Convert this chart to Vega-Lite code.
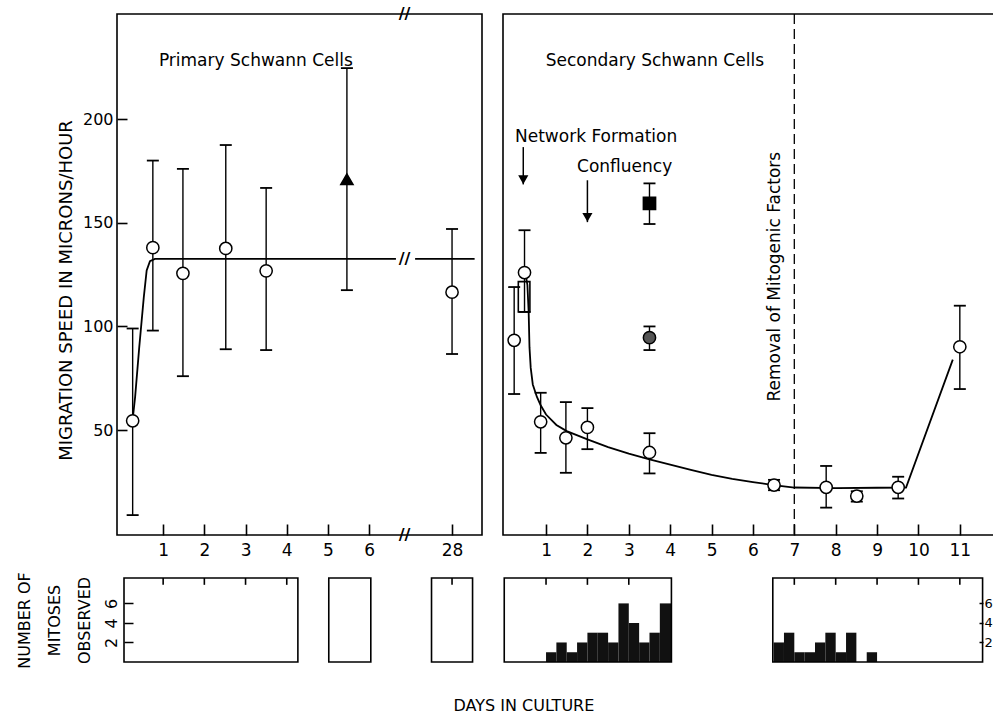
{
"$schema": "https://vega.github.io/schema/vega-lite/v6.json",
"background": "white",
"padding": {"left": 16, "top": 5, "right": 0, "bottom": 5},
"config": {
  "font": "DejaVu Sans",
  "view": {"stroke": null},
  "axis": {"labelFont": "DejaVu Sans", "titleFont": "DejaVu Sans", "labelColor": "black", "titleColor": "black", "tickColor": "black", "domain": false, "grid": false, "labelFontSize": 16, "titleFontSize": 16, "titleFontWeight": "normal"},
  "text": {"font": "DejaVu Sans", "fontSize": 17, "color": "black"}
},
"title": {"text": "DAYS IN CULTURE", "orient": "bottom", "anchor": "middle", "fontSize": 16, "fontWeight": "normal", "font": "DejaVu Sans", "color": "black", "offset": 30, "dx": 18},
"datasets": {
  "prim_pts": [
    {"day": 0.26, "speed": 54.5, "lo": 9, "hi": 99, "marker": "open"},
    {"day": 0.75, "speed": 138, "lo": 98, "hi": 180, "marker": "open"},
    {"day": 1.48, "speed": 125.6, "lo": 76, "hi": 176, "marker": "open"},
    {"day": 2.52, "speed": 137.6, "lo": 89, "hi": 187.5, "marker": "open"},
    {"day": 3.5, "speed": 126.8, "lo": 88.6, "hi": 166.8, "marker": "open"},
    {"day": 5.46, "speed": 171, "lo": 117.5, "hi": 224.6, "marker": "triangle"},
    {"day": 28, "speed": 116.5, "lo": 86.7, "hi": 147, "marker": "open"}
  ],
  "prim_curve": [
    {"day": 0.26, "speed": 55, "seg": "a"},
    {"day": 0.32, "speed": 66, "seg": "a"},
    {"day": 0.42, "speed": 90, "seg": "a"},
    {"day": 0.53, "speed": 114, "seg": "a"},
    {"day": 0.6, "speed": 127, "seg": "a"},
    {"day": 0.68, "speed": 131.5, "seg": "a"},
    {"day": 0.8, "speed": 132.6, "seg": "a"},
    {"day": 6.65, "speed": 132.6, "seg": "a"},
    {"day": 27.1, "speed": 132.6, "seg": "b"},
    {"day": 28.55, "speed": 132.6, "seg": "b"}
  ],
  "prim_text": [
    {"day": 3.25, "speed": 228, "label": "Primary Schwann Cells"}
  ],
  "prim_break": [
    {"day": 16.85, "speed": 250.7, "label": "//"},
    {"day": 16.85, "speed": 132.6, "label": "//"},
    {"day": 16.85, "speed": -0.6, "label": "//"}
  ],
  "sec_pts": [
    {"day": 0.23, "speed": 93.3, "lo": 67.4, "hi": 119, "marker": "open"},
    {"day": 0.48, "speed": 126, "lo": 107, "hi": 146.4, "marker": "open"},
    {"day": 0.87, "speed": 54, "lo": 39, "hi": 68, "marker": "open"},
    {"day": 1.48, "speed": 46.3, "lo": 29.4, "hi": 63.5, "marker": "open"},
    {"day": 2.0, "speed": 51.3, "lo": 40.8, "hi": 60.6, "marker": "open"},
    {"day": 3.5, "speed": 39.2, "lo": 29.1, "hi": 48.5, "marker": "open"},
    {"day": 3.5, "speed": 94.6, "lo": 88.6, "hi": 100, "marker": "dot"},
    {"day": 3.5, "speed": 159.4, "lo": 149.4, "hi": 169, "marker": "square"},
    {"day": 6.51, "speed": 23.5, "lo": 21, "hi": 26, "marker": "open"},
    {"day": 7.77, "speed": 22.4, "lo": 12.6, "hi": 32.7, "marker": "open"},
    {"day": 8.51, "speed": 18.2, "lo": 15.5, "hi": 20.5, "marker": "open"},
    {"day": 9.51, "speed": 22.4, "lo": 17, "hi": 27.5, "marker": "open"},
    {"day": 11.0, "speed": 90.2, "lo": 69.8, "hi": 110, "marker": "open"}
  ],
  "sec_curve": [
    {"day": 0.5, "speed": 126},
    {"day": 0.55, "speed": 120},
    {"day": 0.58, "speed": 107},
    {"day": 0.6, "speed": 90},
    {"day": 0.63, "speed": 80},
    {"day": 0.68, "speed": 72},
    {"day": 0.78, "speed": 66},
    {"day": 0.87, "speed": 62},
    {"day": 1.0, "speed": 57.5},
    {"day": 1.25, "speed": 52.5},
    {"day": 1.5, "speed": 49.5},
    {"day": 2.0, "speed": 45.5},
    {"day": 2.5, "speed": 41.8},
    {"day": 3.0, "speed": 38.6},
    {"day": 3.5, "speed": 35.9},
    {"day": 4.0, "speed": 33.4},
    {"day": 4.5, "speed": 30.8},
    {"day": 5.0, "speed": 28.4},
    {"day": 5.5, "speed": 26.5},
    {"day": 6.0, "speed": 24.9},
    {"day": 6.5, "speed": 23.5},
    {"day": 7.0, "speed": 22.3},
    {"day": 8.0, "speed": 22.0},
    {"day": 9.0, "speed": 22.2},
    {"day": 9.7, "speed": 22.3},
    {"day": 10.83, "speed": 84}
  ],
  "sec_box": [
    {"day": 0.33, "day2": 0.61, "lo": 107, "hi": 121.6}
  ],
  "sec_arrows": [
    {"day": 0.45, "top": 186.5, "tip": 168.5, "head": 171},
    {"day": 2.0, "top": 170.5, "tip": 150.3, "head": 152.8}
  ],
  "sec_text": [
    {"day": 3.63, "speed": 228, "label": "Secondary Schwann Cells", "kind": "title"},
    {"day": 0.25, "speed": 191.3, "label": "Network Formation", "kind": "note"},
    {"day": 1.75, "speed": 176.9, "label": "Confluency", "kind": "note"}
  ],
  "sec_vtext": [
    {"day": 6.53, "speed": 124, "label": "Removal of Mitogenic Factors"}
  ],
  "prim_frames": [
    {"day": 0.05, "day2": 4.27},
    {"day": 5.02, "day2": 6.04},
    {"day": 27.5, "day2": 28.5}
  ],
  "prim_hticks": [{"day": 1}, {"day": 2}, {"day": 3}, {"day": 4}, {"day": 28}],
  "sec_frames": [
    {"day": -0.01, "day2": 4.03},
    {"day": 6.48, "day2": 11.55}
  ],
  "sec_hticks": [{"day": 1}, {"day": 2}, {"day": 3}, {"day": 7}, {"day": 8}, {"day": 9}, {"day": 10}, {"day": 11}],
  "sec_bins": [
    {"day": 1.0, "day2": 1.25, "count": 1},
    {"day": 1.25, "day2": 1.5, "count": 2},
    {"day": 1.5, "day2": 1.75, "count": 1},
    {"day": 1.75, "day2": 2.0, "count": 2},
    {"day": 2.0, "day2": 2.25, "count": 3},
    {"day": 2.25, "day2": 2.5, "count": 3},
    {"day": 2.5, "day2": 2.75, "count": 2},
    {"day": 2.75, "day2": 3.0, "count": 6},
    {"day": 3.0, "day2": 3.25, "count": 4},
    {"day": 3.25, "day2": 3.5, "count": 2},
    {"day": 3.5, "day2": 3.75, "count": 3},
    {"day": 3.75, "day2": 4.03, "count": 6},
    {"day": 6.5, "day2": 6.75, "count": 2},
    {"day": 6.75, "day2": 7.0, "count": 3},
    {"day": 7.0, "day2": 7.25, "count": 1},
    {"day": 7.25, "day2": 7.5, "count": 1},
    {"day": 7.5, "day2": 7.75, "count": 2},
    {"day": 7.75, "day2": 8.0, "count": 3},
    {"day": 8.0, "day2": 8.25, "count": 1},
    {"day": 8.25, "day2": 8.5, "count": 3},
    {"day": 8.75, "day2": 9.0, "count": 1}
  ]
},
"spacing": 19,
"hconcat": [
  {
    "bounds": "flush",
    "spacing": 43,
    "vconcat": [
      {
        "width": 365, "height": 521,
        "view": {"stroke": "black", "strokeWidth": 1.6},
        "encoding": {
          "x": {"field": "day", "type": "quantitative",
            "scale": {"type": "linear", "domain": [-0.12, 6.7, 27.0, 28.73], "range": [0, 281, 294, 365], "nice": false, "zero": false},
            "axis": {"values": [1, 2, 3, 4, 5, 6, 28], "title": null, "tickSize": -11, "tickWidth": 1.6, "labelPadding": 18, "labelFontSize": 17, "labelFlush": false}},
          "y": {"field": "speed", "type": "quantitative", "scale": {"domain": [-0.6, 250.7], "nice": false, "zero": false},
            "axis": {"values": [50, 100, 150, 200], "title": "MIGRATION SPEED IN MICRONS/HOUR", "tickSize": -10, "tickWidth": 1.6, "labelPadding": 14, "titlePadding": 7, "titleFontSize": 18, "titleY": 276}}
        },
        "layer": [
          {"data": {"name": "prim_pts"}, "mark": {"type": "rule", "stroke": "black", "strokeWidth": 1.4},
           "encoding": {"y": {"field": "lo", "type": "quantitative", "scale": {"domain": [-0.6, 250.7], "nice": false, "zero": false}, "axis": {"values": [50, 100, 150, 200], "title": "MIGRATION SPEED IN MICRONS/HOUR", "tickSize": -10, "tickWidth": 1.6, "labelPadding": 14, "titlePadding": 7, "titleFontSize": 18, "titleY": 276}}, "y2": {"field": "hi"}}},
          {"data": {"name": "prim_pts"}, "mark": {"type": "point", "shape": "M-1,0L1,0", "size": 144, "stroke": "black", "strokeWidth": 1.8, "filled": false, "opacity": 1},
           "encoding": {"y": {"field": "lo", "type": "quantitative", "scale": {"domain": [-0.6, 250.7], "nice": false, "zero": false}, "axis": {"values": [50, 100, 150, 200], "title": "MIGRATION SPEED IN MICRONS/HOUR", "tickSize": -10, "tickWidth": 1.6, "labelPadding": 14, "titlePadding": 7, "titleFontSize": 18, "titleY": 276}}}},
          {"data": {"name": "prim_pts"}, "mark": {"type": "point", "shape": "M-1,0L1,0", "size": 144, "stroke": "black", "strokeWidth": 1.8, "filled": false, "opacity": 1},
           "encoding": {"y": {"field": "hi", "type": "quantitative", "scale": {"domain": [-0.6, 250.7], "nice": false, "zero": false}, "axis": {"values": [50, 100, 150, 200], "title": "MIGRATION SPEED IN MICRONS/HOUR", "tickSize": -10, "tickWidth": 1.6, "labelPadding": 14, "titlePadding": 7, "titleFontSize": 18, "titleY": 276}}}},
          {"data": {"name": "prim_curve"}, "mark": {"type": "line", "stroke": "black", "strokeWidth": 1.8},
           "encoding": {"detail": {"field": "seg"}}},
          {"data": {"name": "prim_pts"}, "mark": {"type": "point", "size": 150, "filled": true, "stroke": "black", "strokeWidth": 1.5, "opacity": 1},
           "encoding": {
             "shape": {"field": "marker", "type": "nominal", "scale": {"domain": ["open", "triangle", "square", "dot"], "range": ["circle", "triangle-up", "square", "circle"]}, "legend": null},
             "fill": {"field": "marker", "type": "nominal", "scale": {"domain": ["open", "triangle", "square", "dot"], "range": ["white", "black", "black", "#555555"]}, "legend": null}}},
          {"data": {"name": "prim_text"}, "mark": {"type": "text", "fontSize": 17, "align": "center", "baseline": "middle"},
           "encoding": {"text": {"field": "label"}}},
          {"data": {"name": "prim_break"}, "mark": {"type": "text", "fontSize": 16, "align": "center", "baseline": "middle", "fontWeight": "bold"},
           "encoding": {"text": {"field": "label"}}}
        ]
      },
      {
        "width": 365, "height": 84,
        "encoding": {
          "x": {"field": "day", "type": "quantitative",
            "scale": {"type": "linear", "domain": [-0.12, 6.7, 27.0, 28.73], "range": [0, 281, 294, 365], "nice": false, "zero": false}, "axis": null}
        },
        "layer": [
          {"data": {"name": "prim_frames"}, "mark": {"type": "rect", "fill": "white", "fillOpacity": 0, "stroke": "black", "strokeWidth": 1.6},
           "encoding": {"x2": {"field": "day2"},
             "y": {"datum": 0, "type": "quantitative", "scale": {"domain": [0, 8.6], "nice": false, "zero": false},
               "axis": {"values": [2, 4, 6], "title": ["NUMBER OF", "MITOSES", "OBSERVED"], "offset": -7, "tickSize": -9, "tickWidth": 1.5, "labelPadding": 14, "labelAngle": 270, "titleLineHeight": 30, "titlePadding": 11, "titleFontSize": 16}},
             "y2": {"datum": 8.6}}},
          {"data": {"name": "prim_hticks"}, "mark": {"type": "rule", "stroke": "black", "strokeWidth": 1.6},
           "encoding": {"y": {"datum": 8.6, "type": "quantitative", "scale": {"domain": [0, 8.6], "nice": false, "zero": false},
               "axis": {"values": [2, 4, 6], "title": ["NUMBER OF", "MITOSES", "OBSERVED"], "offset": -7, "tickSize": -9, "tickWidth": 1.5, "labelPadding": 14, "labelAngle": 270, "titleLineHeight": 30, "titlePadding": 11, "titleFontSize": 16}},
             "y2": {"datum": 7.9}}}
        ]
      }
    ]
  },
  {
    "bounds": "flush",
    "spacing": 43,
    "vconcat": [
      {
        "width": 492, "height": 521,
        "view": {"stroke": "black", "strokeWidth": 1.6},
        "encoding": {
          "x": {"field": "day", "type": "quantitative",
            "scale": {"domain": [-0.04, 11.85], "nice": false, "zero": false},
            "axis": {"values": [1, 2, 3, 4, 5, 6, 7, 8, 9, 10, 11], "title": null, "tickSize": -11, "tickWidth": 1.6, "labelPadding": 18, "labelFontSize": 17, "labelFlush": false}}
        },
        "layer": [
          {"data": {"values": [{"day": 7}]}, "mark": {"type": "rule", "stroke": "black", "strokeWidth": 1.3, "strokeDash": [10, 5]}, "encoding": {}},
          {"data": {"name": "sec_box"}, "mark": {"type": "rect", "fill": "white", "stroke": "black", "strokeWidth": 1.6},
           "encoding": {"x2": {"field": "day2"}, "y": {"field": "lo", "type": "quantitative", "scale": {"domain": [-0.6, 250.7], "nice": false, "zero": false}, "axis": null}, "y2": {"field": "hi"}}},
          {"data": {"name": "sec_pts"}, "mark": {"type": "rule", "stroke": "black", "strokeWidth": 1.4},
           "encoding": {"y": {"field": "lo", "type": "quantitative", "scale": {"domain": [-0.6, 250.7], "nice": false, "zero": false}, "axis": null}, "y2": {"field": "hi"}}},
          {"data": {"name": "sec_pts"}, "mark": {"type": "point", "shape": "M-1,0L1,0", "size": 144, "stroke": "black", "strokeWidth": 1.8, "filled": false, "opacity": 1},
           "encoding": {"y": {"field": "lo", "type": "quantitative", "scale": {"domain": [-0.6, 250.7], "nice": false, "zero": false}, "axis": null}}},
          {"data": {"name": "sec_pts"}, "mark": {"type": "point", "shape": "M-1,0L1,0", "size": 144, "stroke": "black", "strokeWidth": 1.8, "filled": false, "opacity": 1},
           "encoding": {"y": {"field": "hi", "type": "quantitative", "scale": {"domain": [-0.6, 250.7], "nice": false, "zero": false}, "axis": null}}},
          {"data": {"name": "sec_curve"}, "mark": {"type": "line", "stroke": "black", "strokeWidth": 1.8},
           "encoding": {"y": {"field": "speed", "type": "quantitative", "scale": {"domain": [-0.6, 250.7], "nice": false, "zero": false}, "axis": null}}},
          {"data": {"name": "sec_arrows"}, "mark": {"type": "rule", "stroke": "black", "strokeWidth": 1.5},
           "encoding": {"y": {"field": "top", "type": "quantitative", "scale": {"domain": [-0.6, 250.7], "nice": false, "zero": false}, "axis": null}, "y2": {"field": "tip"}}},
          {"data": {"name": "sec_arrows"}, "mark": {"type": "point", "shape": "triangle-down", "size": 45, "filled": true, "fill": "black", "stroke": "black", "opacity": 1},
           "encoding": {"y": {"field": "head", "type": "quantitative", "scale": {"domain": [-0.6, 250.7], "nice": false, "zero": false}, "axis": null}}},
          {"data": {"name": "sec_pts"}, "mark": {"type": "point", "size": 150, "filled": true, "stroke": "black", "strokeWidth": 1.5, "opacity": 1},
           "encoding": {
             "y": {"field": "speed", "type": "quantitative", "scale": {"domain": [-0.6, 250.7], "nice": false, "zero": false}, "axis": null},
             "shape": {"field": "marker", "type": "nominal", "scale": {"domain": ["open", "triangle", "square", "dot"], "range": ["circle", "triangle-up", "square", "circle"]}, "legend": null},
             "fill": {"field": "marker", "type": "nominal", "scale": {"domain": ["open", "triangle", "square", "dot"], "range": ["white", "black", "black", "#555555"]}, "legend": null}}},
          {"data": {"name": "sec_text"}, "transform": [{"filter": "datum.kind === 'title'"}], "mark": {"type": "text", "fontSize": 17, "align": "center", "baseline": "middle"},
           "encoding": {"y": {"field": "speed", "type": "quantitative", "scale": {"domain": [-0.6, 250.7], "nice": false, "zero": false}, "axis": null}, "text": {"field": "label"}}},
          {"data": {"name": "sec_text"}, "transform": [{"filter": "datum.kind === 'note'"}], "mark": {"type": "text", "fontSize": 17, "align": "left", "baseline": "middle"},
           "encoding": {"y": {"field": "speed", "type": "quantitative", "scale": {"domain": [-0.6, 250.7], "nice": false, "zero": false}, "axis": null}, "text": {"field": "label"}}},
          {"data": {"name": "sec_vtext"}, "mark": {"type": "text", "fontSize": 17, "align": "center", "baseline": "middle", "angle": 270},
           "encoding": {"y": {"field": "speed", "type": "quantitative", "scale": {"domain": [-0.6, 250.7], "nice": false, "zero": false}, "axis": null}, "text": {"field": "label"}}}
        ]
      },
      {
        "width": 492, "height": 84,
        "encoding": {
          "x": {"field": "day", "type": "quantitative",
            "scale": {"domain": [-0.04, 11.85], "nice": false, "zero": false}, "axis": null}
        },
        "layer": [
          {"data": {"name": "sec_bins"}, "mark": {"type": "rect", "fill": "#111111", "stroke": null},
           "encoding": {"x2": {"field": "day2"}, "y": {"field": "count", "type": "quantitative", "scale": {"domain": [0, 8.6], "nice": false, "zero": false},
               "axis": {"orient": "right", "values": [2, 4, 6], "title": null, "offset": -12, "tickSize": -4, "tickWidth": 1.5, "labelPadding": 5, "labelFontSize": 13}}, "y2": {"datum": 0}}},
          {"data": {"name": "sec_frames"}, "mark": {"type": "rect", "fill": "white", "fillOpacity": 0, "stroke": "black", "strokeWidth": 1.6},
           "encoding": {"x2": {"field": "day2"},
             "y": {"datum": 0, "type": "quantitative", "scale": {"domain": [0, 8.6], "nice": false, "zero": false},
               "axis": {"orient": "right", "values": [2, 4, 6], "title": null, "offset": -12, "tickSize": -4, "tickWidth": 1.5, "labelPadding": 5, "labelFontSize": 13}},
             "y2": {"datum": 8.6}}},
          {"data": {"name": "sec_hticks"}, "mark": {"type": "rule", "stroke": "black", "strokeWidth": 1.6},
           "encoding": {"y": {"datum": 8.6, "type": "quantitative", "scale": {"domain": [0, 8.6], "nice": false, "zero": false},
               "axis": {"orient": "right", "values": [2, 4, 6], "title": null, "offset": -12, "tickSize": -4, "tickWidth": 1.5, "labelPadding": 5, "labelFontSize": 13}},
             "y2": {"datum": 7.9}}}
        ]
      }
    ]
  }
]
}
